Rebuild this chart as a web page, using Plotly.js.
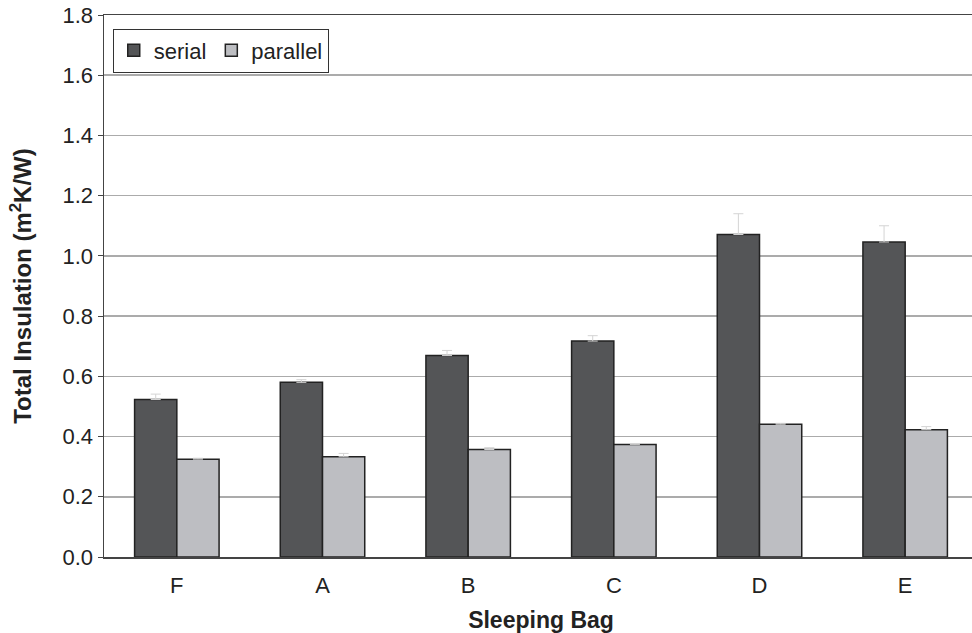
<!DOCTYPE html>
<html>
<head>
<meta charset="utf-8">
<script src="https://cdn.plot.ly/plotly-3.0.1.min.js"></script>
<style>html,body{margin:0;padding:0;overflow:hidden;background:#fff;}#chart{width:980px;height:633px;}</style>
</head>
<body>
<div id="chart"></div>
<script>
const categories = ["F", "A", "B", "C", "D", "E"];
const serialValues = [0.523, 0.580, 0.669, 0.717, 1.071, 1.046];
const serialErrors = [0.018, 0.009, 0.017, 0.018, 0.069, 0.054];
const parallelValues = [0.325, 0.333, 0.357, 0.374, 0.441, 0.423];
const parallelErrors = [0.003, 0.011, 0.006, 0.003, 0.003, 0.010];
const yTickVals = [0, 0.2, 0.4, 0.6, 0.8, 1.0, 1.2, 1.4, 1.6, 1.8];
const yTickText = ["0.0", "0.2", "0.4", "0.6", "0.8", "1.0", "1.2", "1.4", "1.6", "1.8"];

const font = "Liberation Sans, Arial, sans-serif";
const traces = [
  {
    type: "bar", name: "serial", x: categories, y: serialValues,
    marker: {color: "#545557", line: {color: "#222", width: 1.5}},
    error_y: {type: "data", array: serialErrors, arrayminus: serialErrors.map(() => 0), symmetric: false, color: "#d4d4d4", thickness: 1, width: 5}
  },
  {
    type: "bar", name: "parallel", x: categories, y: parallelValues,
    marker: {color: "#bdbec2", line: {color: "#222", width: 1.5}},
    error_y: {type: "data", array: parallelErrors, arrayminus: parallelErrors.map(() => 0), symmetric: false, color: "#d4d4d4", thickness: 1, width: 5}
  }
];
const layout = {
  width: 980, height: 633,
  margin: {l: 104, r: 2, t: 15, b: 76},
  paper_bgcolor: "#fff", plot_bgcolor: "#fff",
  barmode: "group", bargap: 0.42, bargroupgap: 0,
  font: {family: font, color: "#222", size: 22},
  showlegend: true,
  legend: {
    orientation: "h", x: 0.01, y: 0.975, xanchor: "left", yanchor: "top",
    bgcolor: "#fff", bordercolor: "#333", borderwidth: 1,
    font: {family: font, size: 22, color: "#222"},
    itemwidth: 30, tracegroupgap: 0
  },
  xaxis: {
    type: "category",
    showline: true, linecolor: "#444", linewidth: 1.5, mirror: true,
    ticks: "outside", ticklen: 8, tickcolor: "rgba(0,0,0,0)",
    tickfont: {family: font, size: 22, color: "#222"},
    title: {text: "<b>Sleeping Bag</b>", font: {family: font, size: 23, color: "#222"}, standoff: 18},
    showgrid: false
  },
  yaxis: {
    range: [0, 1.8], tickvals: yTickVals, ticktext: yTickText,
    showline: true, linecolor: "#444", linewidth: 1.5, mirror: true,
    ticks: "outside", ticklen: 5, tickcolor: "#444",
    tickfont: {family: font, size: 22, color: "#222"},
    showgrid: true, gridcolor: "#ababab", gridwidth: 1.5,
    zeroline: false,
    title: {text: "<b>Total Insulation (m<sup>2</sup>K/W)</b>", font: {family: font, size: 24, color: "#222"}, standoff: 24}
  }
};
Plotly.newPlot("chart", traces, layout, {displayModeBar: false, staticPlot: true});
</script>
</body>
</html>
